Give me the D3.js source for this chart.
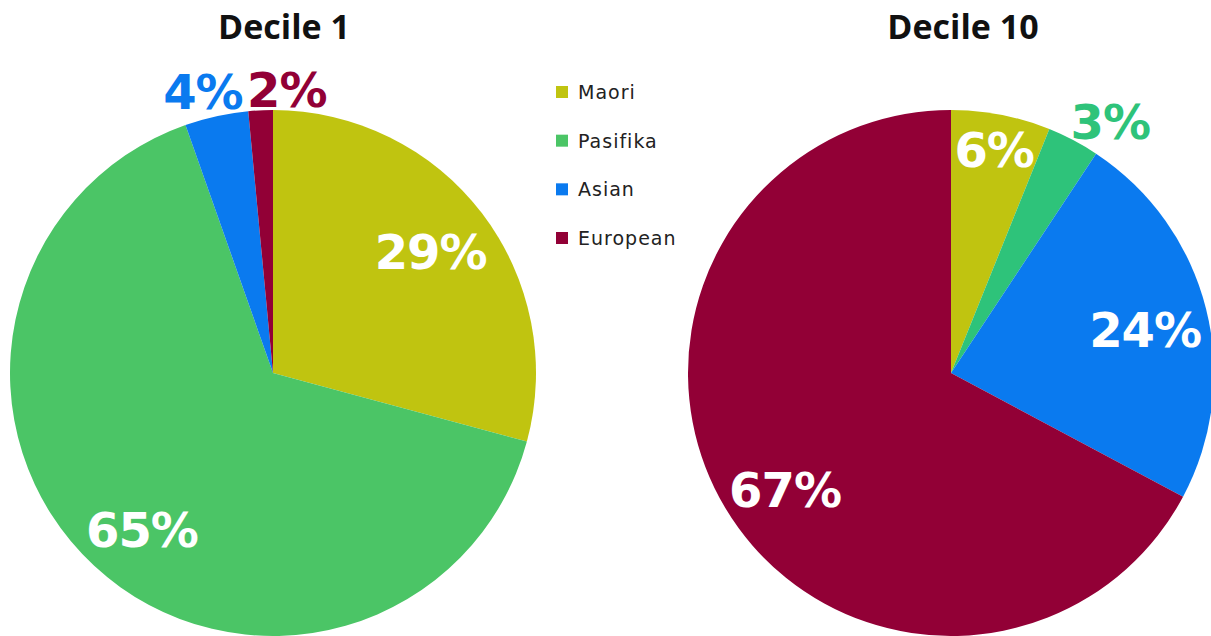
<!DOCTYPE html>
<html><head><meta charset="utf-8">
<script src="https://cdn.jsdelivr.net/npm/d3@7"></script>
<style>
html,body{margin:0;padding:0;background:#fff;}
svg{display:block;}
</style></head>
<body>
<svg id="chart" width="1211" height="636"></svg>
<script>
const categories = ["Maori", "Pasifika", "Asian", "European"];
const decile1Values = [29.2, 65.4, 3.9, 1.5];
const decile10Values = [6.1, 3.2, 23.5, 67.2];
const decile1Labels = ["29%", "65%", "4%", "2%"];
const decile10Labels = ["6%", "3%", "24%", "67%"];
const titles = ["Decile 1", "Decile 10"];
const colors1 = ["#C0C410", "#4BC566", "#0A7AEF", "#920036"];
const colors10 = ["#C0C410", "#2EC37A", "#0A7AEF", "#920036"];
const legendColors = ["#C0C410", "#4BC566", "#0A7AEF", "#920036"];

const svg = d3.select("#chart");
const R = 263;
const pies = [
  {cx: 273, cy: 373, values: decile1Values, labels: decile1Labels, colors: colors1, title: titles[0],
   place: [{r: 0.755, da: 0, outside: false}, {r: 0.778, da: -3, outside: false},
           {r: 1.10, da: -1.6, outside: true}, {r: 1.077, da: 5.5, outside: true}],
   titleX: 284},
  {cx: 951, cy: 373, values: decile10Values, labels: decile10Labels, colors: colors10, title: titles[1],
   place: [{r: 0.863, da: 0, outside: false}, {r: 1.13, da: 4.7, outside: true},
           {r: 0.756, da: 1.7, outside: false}, {r: 0.772, da: -4.2, outside: false}],
   titleX: 963}
];

const pie = d3.pie().sort(null).value(d => d);
const arc = d3.arc().innerRadius(0).outerRadius(R);

pies.forEach(p => {
  const g = svg.append("g").attr("transform", `translate(${p.cx},${p.cy})`);
  const arcs = pie(p.values);
  g.selectAll("path").data(arcs).enter().append("path")
    .attr("d", arc)
    .attr("fill", (d, i) => p.colors[i]);
  g.selectAll("text.lbl").data(arcs).enter().append("text")
    .attr("class", "lbl")
    .each(function(d, i) {
      const pl = p.place[i];
      const a = (d.startAngle + d.endAngle) / 2 + pl.da * Math.PI / 180;
      const x = Math.sin(a) * R * pl.r;
      const y = -Math.cos(a) * R * pl.r;
      d3.select(this)
        .attr("x", x).attr("y", y)
        .attr("text-anchor", "middle")
        .attr("dominant-baseline", "central")
        .attr("fill", pl.outside ? p.colors[i] : "#fff")
        .style("font-family", "'DejaVu Sans', Verdana, sans-serif")
        .style("font-weight", "bold")
        .style("font-size", "48px")
        .style("letter-spacing", "-1px")
        .text(p.labels[i]);
    });
  svg.append("text")
    .attr("x", p.titleX).attr("y", 39)
    .attr("text-anchor", "middle")
    .attr("fill", "#111")
    .style("font-family", "'Open Sans', sans-serif")
    .style("font-weight", "bold")
    .style("font-size", "34px")
    .text(p.title);
});

const legend = svg.append("g").attr("transform", "translate(556,86)");
const ly = d3.scalePoint().domain(categories).range([0, 146]);
categories.forEach((c, i) => {
  legend.append("rect").attr("x", 0).attr("y", ly(c)).attr("width", 12).attr("height", 12).attr("fill", legendColors[i]);
  legend.append("text").attr("x", 22).attr("y", ly(c) + 6)
    .attr("dominant-baseline", "central")
    .attr("fill", "#222")
    .style("font-family", "'DejaVu Sans', Verdana, sans-serif")
    .style("font-size", "19px")
    .style("letter-spacing", "1px")
    .text(c);
});
</script>
</body></html>
